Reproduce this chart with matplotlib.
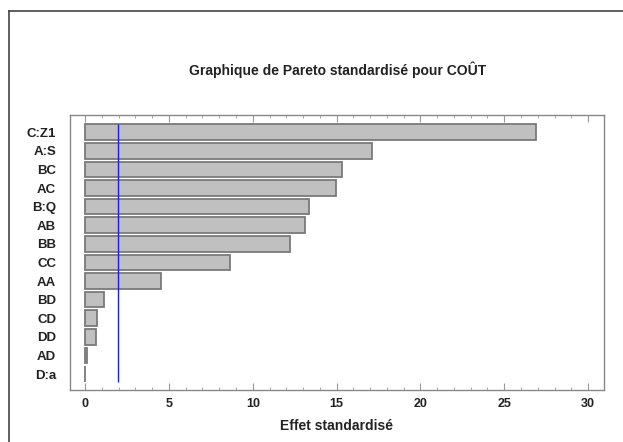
import matplotlib
matplotlib.use("Agg")
import matplotlib.pyplot as plt
from matplotlib.lines import Line2D
from matplotlib.ticker import MultipleLocator

labels = ["C:Z1", "A:S", "BC", "AC", "B:Q", "AB", "BB", "CC", "AA", "BD", "CD", "DD", "AD", "D:a"]
effects = [26.87, 17.1, 15.35, 14.97, 13.36, 13.1, 12.22, 8.65, 4.51, 1.13, 0.70, 0.64, 0.12, 0.02]
t_crit = 1.98

plt.rcParams['font.family'] = ['Liberation Sans', 'DejaVu Sans']

fig = plt.figure(figsize=(6.23, 4.42), dpi=100)
W, H = 623, 442
ax = fig.add_axes([70 / W, 1 - 390 / H, (604 - 70) / W, (390 - 115) / H])

ypos = list(range(len(labels)))
ax.barh(ypos, effects, height=0.84, color="#c0c0c0", edgecolor="#7a7a7a", linewidth=1.3)
ax.vlines(t_crit, -0.42, len(labels) - 1 + 0.42, color="#1a1aff", linewidth=1.0, zorder=3)

ax.set_xlim(-0.9, 30.95)
ax.set_ylim(len(labels) - 1 + 0.86, -0.93)
ax.set_yticks(ypos)
ax.set_yticklabels(labels, fontsize=9.5, fontweight="bold", color="#222222")
ax.xaxis.set_major_locator(MultipleLocator(5))
ax.xaxis.set_minor_locator(MultipleLocator(1))
ax.tick_params(axis="y", length=0, pad=10)
ax.tick_params(axis="x", which="major", direction="in", top=True, bottom=True, length=5,
               color="#999999", labelsize=9, pad=6, labelcolor="#222222")
ax.tick_params(axis="x", which="minor", direction="in", top=True, bottom=True, length=2.5,
               color="#999999")
for lab in ax.get_xticklabels():
    lab.set_fontweight("bold")
for s in ax.spines.values():
    s.set_color("#888888")
    s.set_linewidth(1.0)

ax.set_xlabel("Effet standardisé", fontsize=10, fontweight="bold", color="#222222", labelpad=6)

fig.text(338 / W, 1 - 70 / H, "Graphique de Pareto standardisé pour COÛT",
         ha="center", va="center", fontsize=10, fontweight="bold", color="#222222")

# outer frame (left and top edges)
fig.add_artist(Line2D([8.5 / W, 8.5 / W], [0, 1 - 10.5 / H], transform=fig.transFigure,
                      color="#444444", linewidth=1.2))
fig.add_artist(Line2D([8.5 / W, 1], [1 - 10.5 / H, 1 - 10.5 / H], transform=fig.transFigure,
                      color="#444444", linewidth=1.2))

fig.savefig("out.png", dpi=100)
